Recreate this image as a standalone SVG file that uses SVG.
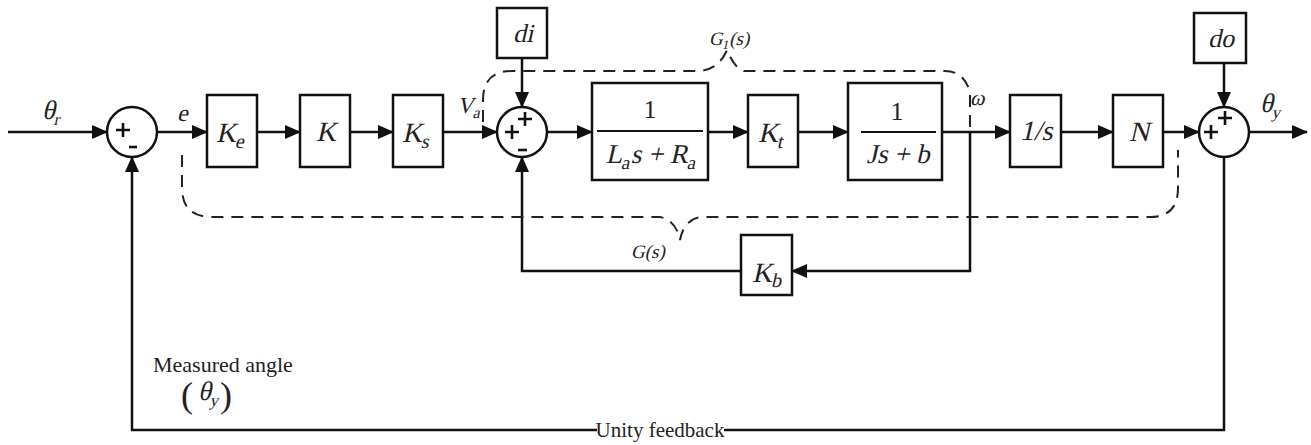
<svg xmlns="http://www.w3.org/2000/svg" width="1311" height="445" viewBox="0 0 1311 445">
  <style>
    .blk { fill: #fff; stroke: #111; stroke-width: 2.5; }
    .sum { fill: #fff; stroke: #111; stroke-width: 2.5; }
    .wire { fill: none; stroke: #111; stroke-width: 2.5; }
    .sign { fill: none; stroke: #111; stroke-width: 2.6; }
    .dash { fill: none; stroke: #222; stroke-width: 2; stroke-dasharray: 12 8; }
    .math { font-family: "Liberation Serif", "Times New Roman", serif; fill: #222; }
    .roman { font-family: "Liberation Serif", "Times New Roman", serif; fill: #222; }
    .mid { text-anchor: middle; }
  </style>
  <defs>
    <marker id="arrow" markerUnits="userSpaceOnUse" markerWidth="16" markerHeight="14" refX="15" refY="7" orient="auto">
      <path d="M0,0 L16,7 L0,14 Z" fill="#111"/>
    </marker>
    <!-- plus sign used inside summing junctions -->
    <path id="plus" d="M-7,0 H7 M0,-7 V7"/>
  </defs>
  <rect width="1311" height="445" fill="#fff"/>

  <!-- connectors -->
  <g id="connectors">
    <path class="wire" d="M8,132 L107,132" marker-end="url(#arrow)"/>
    <path class="wire" d="M158,132 L207,132" marker-end="url(#arrow)"/>
    <path class="wire" d="M257,132 L300,132" marker-end="url(#arrow)"/>
    <path class="wire" d="M350,132 L393,132" marker-end="url(#arrow)"/>
    <path class="wire" d="M443,132 L497,132" marker-end="url(#arrow)"/>
    <path class="wire" d="M522,58 L522,107" marker-end="url(#arrow)"/>
    <path class="wire" d="M548,132 L592,132" marker-end="url(#arrow)"/>
    <path class="wire" d="M708,132 L748,132" marker-end="url(#arrow)"/>
    <path class="wire" d="M798,132 L848,132" marker-end="url(#arrow)"/>
    <path class="wire" d="M942,132 L1010,132" marker-end="url(#arrow)"/>
    <path class="wire" d="M1061,132 L1113,132" marker-end="url(#arrow)"/>
    <path class="wire" d="M1163,132 L1199,132" marker-end="url(#arrow)"/>
    <path class="wire" d="M1224,63 L1224,107" marker-end="url(#arrow)"/>
    <path class="wire" d="M1249,132 L1307,132" marker-end="url(#arrow)"/>
    <!-- back-EMF loop -->
    <path class="wire" d="M970,132 L970,271 L792,271" marker-end="url(#arrow)"/>
    <path class="wire" d="M741,271 L522,271 L522,157" marker-end="url(#arrow)"/>
    <!-- unity feedback -->
    <path class="wire" d="M1224,157 L1224,430 L724,430"/>
    <path class="wire" d="M597,430 L132,430 L132,157" marker-end="url(#arrow)"/>
  </g>

  <!-- dashed grouping outlines -->
  <g id="groups">
    <path class="dash" d="M182,155 L182,188 Q182,217 212,217 L660,217 Q676,220 680,240 Q684,220 700,217 L1150,217 Q1178,217 1178,188 L1178,150"/>
    <path class="dash" d="M483,122 L483,100 Q483,71 512,71 L700,71 Q719,69 727,50 Q735,69 744,71 L945,71 Q964,71 970,92 L970,130"/>
    <text class="math" font-size="19" transform="translate(709,45) skewX(-13)">G<tspan font-size="13" dy="4">1</tspan><tspan dy="-4">(s)</tspan></text>
    <text class="math" font-size="19" transform="translate(631,258) skewX(-13)">G(s)</text>
  </g>

  <!-- summing junctions -->
  <g id="sum1">
    <circle class="sum" cx="132" cy="132" r="25"/>
    <use href="#plus" class="sign" x="123" y="130"/>
    <path class="sign" d="M129,147 H137"/>
  </g>
  <g id="sum2">
    <circle class="sum" cx="522" cy="132" r="25"/>
    <use href="#plus" class="sign" x="512" y="132"/>
    <use href="#plus" class="sign" x="525" y="119"/>
    <path class="sign" d="M518,150 H527"/>
  </g>
  <g id="sum3">
    <circle class="sum" cx="1224" cy="132" r="25"/>
    <use href="#plus" class="sign" x="1211" y="132"/>
    <use href="#plus" class="sign" x="1225" y="118"/>
  </g>

  <!-- forward path blocks -->
  <g id="Ke">
    <rect class="blk" x="207" y="95" width="50" height="72"/>
    <text class="math" font-size="28" transform="translate(216,142) skewX(-13)">K<tspan font-size="20" dy="6">e</tspan></text>
  </g>
  <g id="K">
    <rect class="blk" x="300" y="95" width="50" height="72"/>
    <text class="math mid" font-size="28" transform="translate(326,141) skewX(-13)">K</text>
  </g>
  <g id="Ks">
    <rect class="blk" x="393" y="95" width="50" height="72"/>
    <text class="math" font-size="28" transform="translate(402,142) skewX(-13)">K<tspan font-size="20" dy="6">s</tspan></text>
  </g>
  <g id="di">
    <rect class="blk" x="497" y="8" width="50" height="50"/>
    <text class="math mid" font-size="26" transform="translate(523,42) skewX(-13)">di</text>
  </g>
  <g id="armature">
    <rect class="blk" x="592" y="83" width="116" height="97"/>
    <text class="roman mid" x="650" y="118" font-size="26">1</text>
    <line x1="597" y1="131" x2="703" y2="131" stroke="#111" stroke-width="1.8"/>
    <text class="math mid" font-size="27" transform="translate(651,163) skewX(-13)">L<tspan font-size="19" dy="6">a</tspan><tspan dy="-6">s + R</tspan><tspan font-size="19" dy="6">a</tspan></text>
  </g>
  <g id="Kt">
    <rect class="blk" x="748" y="95" width="50" height="72"/>
    <text class="math" font-size="28" transform="translate(758,142) skewX(-13)">K<tspan font-size="20" dy="6">t</tspan></text>
  </g>
  <g id="mechanical">
    <rect class="blk" x="848" y="83" width="94" height="97"/>
    <text class="roman mid" x="897" y="120" font-size="26">1</text>
    <line x1="861" y1="132" x2="936" y2="132" stroke="#111" stroke-width="1.8"/>
    <text class="math mid" font-size="27" transform="translate(898,163) skewX(-13)">Js + b</text>
  </g>
  <g id="integrator">
    <rect class="blk" x="1010" y="95" width="51" height="72"/>
    <text class="math mid" font-size="28" transform="translate(1036,140) skewX(-13)">1/s</text>
  </g>
  <g id="N">
    <rect class="blk" x="1113" y="95" width="50" height="72"/>
    <text class="math mid" font-size="28" transform="translate(1139,141) skewX(-13)">N</text>
  </g>
  <g id="do">
    <rect class="blk" x="1194" y="13" width="52" height="50"/>
    <text class="math mid" font-size="26" transform="translate(1221,47) skewX(-13)">do</text>
  </g>
  <g id="Kb">
    <rect class="blk" x="741" y="235" width="51" height="60"/>
    <text class="math" font-size="28" transform="translate(752,282) skewX(-13)">K<tspan font-size="20" dy="5">b</tspan></text>
  </g>

  <!-- signal labels -->
  <g id="labels">
    <text class="math" font-size="27" transform="translate(42,119) skewX(-13)">θ<tspan font-size="17" dy="6">r</tspan></text>
    <text class="math" font-size="24" transform="translate(177,121) skewX(-13)">e</text>
    <text class="math" font-size="23" transform="translate(457,113) skewX(-13)">V<tspan font-size="16" dy="5">a</tspan></text>
    <text class="math" font-size="22" transform="translate(970,105) skewX(-13)">ω</text>
    <text class="math" font-size="27" transform="translate(1260,112) skewX(-13)">θ<tspan font-size="17" dy="6">y</tspan></text>
    <text class="roman" x="153" y="372" font-size="22">Measured angle</text>
    <text class="roman" x="181" y="407" font-size="36">(</text>
    <text class="math" font-size="27" transform="translate(198,400) skewX(-13)">θ<tspan font-size="17" dy="6">y</tspan></text>
    <text class="roman" x="220" y="407" font-size="36">)</text>
    <text class="roman mid" x="660" y="437" font-size="21">Unity feedback</text>
  </g>
</svg>
